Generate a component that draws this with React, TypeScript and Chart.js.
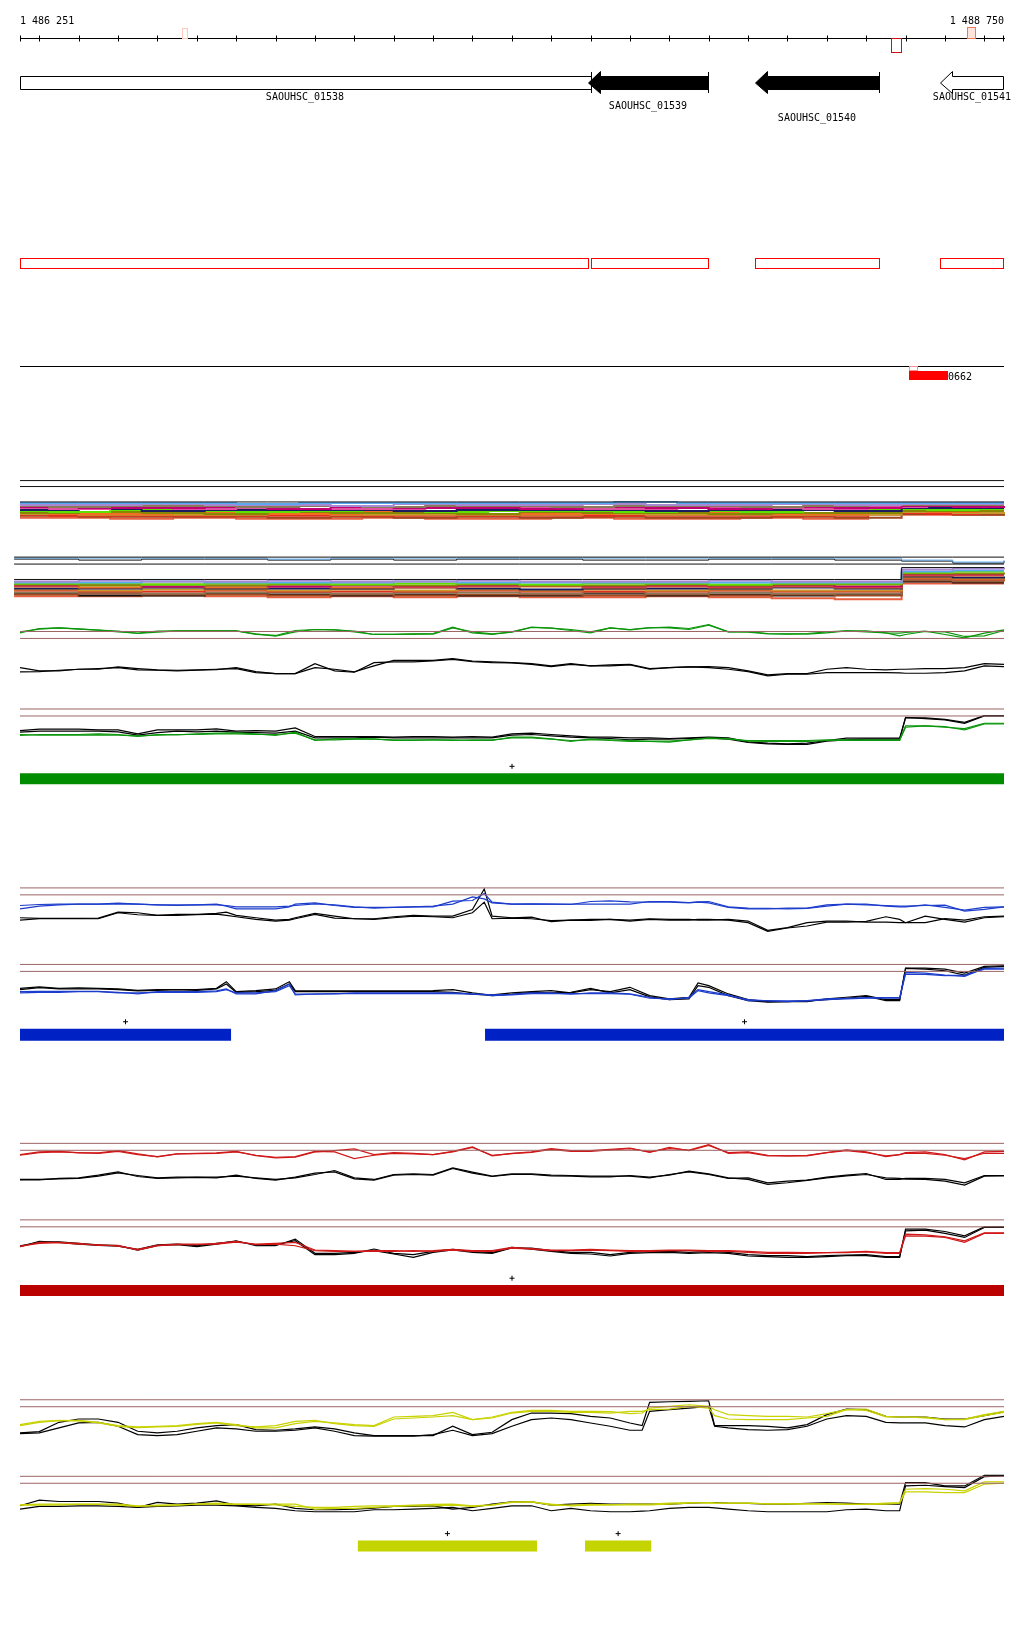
import React, { useEffect, useRef } from 'react';
import { Chart, registerables } from 'chart.js';

Chart.register(...registerables);

// ---------------- genomic window ----------------
const START = 1486251;
const END = 1488750;
const RANGE_LABELS = ['1 486 251', '1 488 750'];
const AXIS_TICKS = [1486251, 1486300, 1486400, 1486500, 1486600, 1486700, 1486800, 1486900, 1487000, 1487100, 1487200, 1487300, 1487400, 1487500, 1487600, 1487700, 1487800, 1487900, 1488000, 1488100, 1488200, 1488300, 1488400, 1488500, 1488600, 1488700, 1488750];
const AXIS_MARK_START = [1486662, 1488464, 1488657];
const AXIS_MARK_END = [1486675, 1488488, 1488676];

// ---------------- genes ----------------
const GENE_NAMES = ['SAOUHSC_01538', 'SAOUHSC_01539', 'SAOUHSC_01540', 'SAOUHSC_01541'];
const GENE_START = [1486251, 1487693, 1488118, 1488587];
const GENE_END = [1487701, 1487997, 1488433, 1488750];
const GENE_STRAND = [0, -1, -1, -1];
const GENE_FILLED = [false, true, true, false];
const GENE_BOUNDARIES = [1487701, 1487997, 1488433];

// CDS boxes
const CDS_START = [1486251, 1487701, 1488118, 1488587];
const CDS_END = [1487693, 1487997, 1488433, 1488750];

// annotated feature
const FEATURE_START = [1488509];
const FEATURE_END = [1488608];
const FEATURE_MARK_END = [1488529];
const FEATURE_LABELS = ['0662'];

// ---------------- signal sample positions ----------------
const BASE_POS = [1486251, 1486300, 1486350, 1486400, 1486450, 1486500, 1486550, 1486600, 1486650, 1486700, 1486750, 1486800, 1486850, 1486900, 1486950, 1487000, 1487050, 1487100, 1487150, 1487200, 1487250, 1487300, 1487350, 1487400, 1487450, 1487500, 1487550, 1487600, 1487650, 1487700, 1487750, 1487800, 1487850, 1487900, 1487950, 1488000, 1488050, 1488100, 1488150, 1488200, 1488250, 1488300, 1488350, 1488400, 1488450, 1488500, 1488550, 1488600, 1488650, 1488700, 1488750];
const GREEN_EXTRA = [1488485];
const BLUE_EXTRA = [1486775, 1486935, 1487430, 1487973, 1488485];
const RED_EXTRA = [1488485];
const YELLOW_EXTRA = [1487831, 1488015, 1488485];

// reference levels per section (section units)
const GREEN_REF = [91, 112, 325, 346];
const BLUE_REF = [55, 76, 286, 307];
const RED_REF = [46, 67, 277, 298];
const YELLOW_REF = [40, 61, 271, 292];

// ---------------- green section ----------------
const G_TOP_G1 = [95, 82, 80, 83, 87, 90, 97, 93, 89, 89, 89, 89, 100, 103, 88, 85, 86, 90, 100, 100, 98, 99, 80, 92, 98, 93, 79, 81, 85, 92, 80, 85, 79, 80, 85, 72, 92, 91, 97, 98, 99, 95, 89, 89, 95, 104, 100, 91, 92, 106, 104, 88];
const G_TOP_G2 = [92, 84, 80, 84, 87, 92, 96, 90, 89, 89, 89, 89, 98, 105, 92, 85, 86, 92, 100, 100, 99, 97, 78, 95, 100, 92, 78, 81, 88, 95, 80, 86, 80, 78, 82, 70, 92, 93, 98, 99, 97, 92, 89, 92, 95, 96, 94, 90, 100, 110, 96, 86];
const G_TOP_K1 = [200, 210, 210, 205, 205, 198, 203, 207, 208, 207, 205, 203, 215, 218, 218, 200, 205, 213, 195, 178, 178, 178, 173, 180, 183, 185, 188, 195, 188, 195, 192, 190, 203, 200, 198, 197, 200, 210, 222, 218, 218, 205, 200, 205, 207, 205, 205, 203, 203, 200, 188, 190];
const G_TOP_K2 = [213, 212, 208, 205, 203, 200, 207, 208, 210, 208, 206, 200, 212, 218, 218, 188, 210, 214, 185, 183, 183, 180, 175, 182, 185, 186, 190, 197, 190, 195, 195, 192, 205, 200, 198, 200, 205, 212, 225, 220, 220, 215, 215, 215, 215, 216, 217, 217, 215, 210, 195, 197];
const G_BOT_K1 = [390, 386, 386, 386, 388, 388, 400, 388, 388, 388, 385, 392, 390, 392, 382, 408, 408, 408, 408, 410, 408, 408, 410, 408, 410, 400, 398, 402, 406, 410, 410, 412, 412, 414, 412, 410, 412, 424, 428, 430, 428, 420, 413, 413, 413, 413, 352, 352, 356, 365, 345, 345];
const G_BOT_K2 = [395, 392, 392, 392, 392, 394, 404, 396, 392, 394, 392, 395, 396, 398, 392, 412, 412, 412, 410, 412, 412, 412, 412, 412, 412, 404, 402, 406, 410, 412, 414, 418, 416, 416, 414, 412, 416, 426, 430, 432, 432, 422, 418, 416, 416, 416, 350, 354, 358, 368, 346, 346];
const G_BOT_G1 = [405, 402, 402, 402, 400, 402, 408, 402, 403, 400, 398, 397, 400, 405, 395, 420, 415, 415, 415, 420, 420, 418, 418, 420, 420, 410, 410, 415, 423, 415, 420, 423, 423, 425, 418, 412, 414, 422, 423, 423, 423, 420, 420, 420, 420, 420, 380, 376, 378, 388, 370, 370];
const G_BOT_G2 = [402, 404, 404, 404, 403, 404, 406, 404, 402, 402, 400, 400, 402, 402, 398, 418, 418, 416, 416, 418, 418, 418, 420, 418, 418, 412, 412, 416, 420, 418, 418, 420, 422, 422, 418, 414, 416, 420, 420, 420, 420, 418, 418, 418, 418, 418, 376, 376, 380, 384, 368, 368];

// ---------------- blue section ----------------
const B_TOP_B1 = [108, 105, 104, 104, 104, 101, 104, 106, 106, 106, 106, 108, 112, 112, 112, 110, 108, 103, 106, 112, 116, 114, 112, 112, 95, 93, 72, 98, 104, 103, 104, 104, 104, 104, 104, 96, 96, 99, 97, 96, 112, 116, 117, 118, 117, 110, 104, 106, 108, 110, 110, 108, 107, 125, 120, 112];
const B_TOP_B2 = [118, 110, 106, 104, 104, 103, 104, 106, 108, 106, 104, 110, 118, 118, 118, 112, 104, 100, 108, 114, 114, 114, 112, 110, 104, 82, 88, 100, 104, 104, 104, 105, 96, 94, 97, 98, 98, 100, 98, 100, 114, 118, 118, 116, 116, 106, 104, 104, 110, 112, 112, 106, 114, 122, 114, 112];
const B_TOP_K1 = [145, 147, 147, 147, 146, 128, 130, 138, 135, 135, 132, 128, 138, 145, 152, 150, 145, 132, 140, 148, 148, 142, 138, 140, 140, 120, 58, 140, 145, 143, 157, 152, 153, 150, 152, 148, 150, 150, 152, 152, 150, 155, 183, 175, 160, 155, 155, 158, 158, 160, 160, 140, 150, 158, 145, 142];
const B_TOP_K2 = [152, 148, 148, 148, 148, 130, 136, 138, 138, 136, 134, 138, 142, 150, 155, 152, 148, 135, 146, 148, 150, 145, 140, 142, 145, 130, 98, 148, 146, 148, 154, 152, 150, 150, 155, 150, 152, 152, 150, 150, 152, 160, 186, 176, 170, 158, 158, 156, 142, 150, 160, 160, 148, 152, 142, 140];
const B_BOT_K1 = [358, 354, 358, 357, 358, 360, 364, 362, 362, 362, 358, 338, 368, 365, 360, 338, 365, 366, 366, 366, 366, 366, 366, 365, 362, 372, 376, 378, 372, 368, 365, 372, 362, 368, 355, 380, 390, 385, 342, 350, 375, 392, 398, 398, 398, 390, 385, 380, 392, 392, 297, 297, 300, 312, 292, 290];
const B_BOT_K2 = [362, 356, 360, 360, 360, 362, 366, 364, 362, 364, 360, 345, 370, 368, 364, 345, 368, 368, 368, 368, 368, 368, 368, 368, 370, 376, 378, 380, 376, 370, 372, 370, 358, 372, 362, 384, 392, 390, 350, 355, 380, 395, 400, 398, 396, 392, 388, 382, 395, 395, 298, 300, 305, 318, 295, 292];
const B_BOT_B1 = [368, 367, 367, 367, 367, 370, 375, 368, 368, 368, 366, 360, 375, 375, 365, 345, 378, 375, 375, 372, 372, 372, 372, 372, 372, 375, 376, 378, 376, 372, 372, 376, 372, 372, 375, 385, 392, 385, 362, 368, 378, 395, 395, 398, 395, 390, 388, 386, 386, 386, 310, 312, 318, 322, 298, 297];
const B_BOT_B2 = [372, 370, 370, 368, 368, 372, 372, 370, 370, 370, 368, 362, 372, 372, 368, 350, 375, 376, 374, 374, 374, 374, 374, 374, 374, 376, 377, 380, 378, 374, 374, 374, 374, 374, 376, 388, 390, 388, 365, 372, 380, 392, 396, 396, 396, 392, 390, 388, 388, 388, 315, 316, 320, 318, 300, 300];

// ---------------- red section ----------------
const R_TOP_R1 = [80, 72, 70, 75, 75, 68, 78, 87, 78, 76, 75, 70, 83, 90, 88, 72, 68, 63, 80, 74, 76, 80, 70, 57, 84, 76, 72, 62, 68, 68, 64, 60, 73, 58, 68, 52, 74, 72, 82, 84, 84, 74, 66, 72, 86, 80, 74, 72, 80, 96, 72, 70];
const R_TOP_R2 = [82, 74, 72, 74, 76, 70, 80, 86, 78, 77, 76, 72, 82, 88, 86, 70, 72, 92, 82, 76, 78, 80, 72, 58, 82, 77, 73, 64, 70, 70, 66, 62, 72, 62, 66, 50, 76, 74, 84, 84, 82, 74, 68, 74, 84, 80, 76, 76, 82, 92, 76, 76];
const R_TOP_K1 = [155, 155, 153, 152, 145, 135, 143, 150, 148, 148, 148, 145, 150, 155, 150, 140, 128, 150, 155, 140, 138, 140, 120, 133, 145, 138, 138, 142, 143, 145, 145, 145, 150, 140, 132, 140, 152, 150, 165, 160, 157, 148, 142, 137, 155, 155, 152, 152, 155, 165, 143, 143];
const R_TOP_K2 = [156, 156, 152, 150, 142, 132, 146, 152, 150, 149, 150, 142, 152, 157, 148, 136, 132, 153, 157, 142, 140, 142, 122, 136, 146, 140, 140, 144, 145, 147, 147, 143, 148, 142, 130, 138, 150, 155, 170, 165, 158, 150, 144, 140, 150, 152, 154, 155, 160, 172, 145, 144];
const R_BOT_K1 = [355, 345, 343, 348, 352, 355, 368, 355, 352, 358, 350, 340, 355, 355, 335, 378, 378, 375, 370, 380, 390, 375, 368, 375, 378, 362, 362, 370, 375, 375, 382, 375, 372, 372, 375, 372, 375, 382, 385, 385, 388, 385, 383, 382, 388, 388, 310, 308, 318, 330, 300, 300];
const R_BOT_K2 = [358, 342, 345, 350, 354, 356, 366, 352, 350, 355, 348, 342, 352, 352, 340, 382, 382, 378, 365, 378, 382, 372, 366, 372, 376, 360, 365, 372, 378, 380, 386, 378, 376, 375, 378, 376, 378, 386, 388, 390, 390, 388, 385, 385, 390, 390, 305, 305, 312, 325, 298, 298];
const R_BOT_R1 = [358, 345, 345, 348, 354, 354, 368, 355, 352, 352, 348, 342, 352, 350, 355, 370, 372, 372, 372, 372, 370, 372, 368, 372, 372, 362, 365, 370, 370, 368, 370, 372, 372, 370, 370, 372, 372, 375, 378, 378, 378, 376, 376, 374, 378, 378, 325, 326, 330, 345, 318, 318];
const R_BOT_R2 = [356, 348, 346, 350, 352, 356, 366, 354, 350, 350, 350, 344, 350, 348, 345, 368, 370, 372, 370, 370, 372, 370, 366, 370, 370, 360, 364, 368, 368, 366, 368, 370, 370, 368, 368, 370, 370, 372, 375, 375, 376, 376, 374, 372, 376, 376, 320, 322, 328, 340, 316, 316];

// ---------------- yellow section ----------------
const Y_TOP_Y1 = [118, 108, 103, 102, 108, 118, 122, 120, 118, 112, 108, 115, 125, 125, 112, 105, 110, 115, 118, 92, 90, 88, 78, 100, 92, 78, 72, 72, 75, 75, 76, 82, 80, 65, 60, 55, 60, 70, 85, 88, 90, 90, 92, 82, 70, 68, 90, 92, 92, 92, 100, 98, 85, 75];
const Y_TOP_Y2 = [115, 105, 102, 104, 110, 120, 124, 122, 120, 114, 110, 118, 122, 118, 105, 102, 112, 118, 120, 98, 95, 92, 88, 100, 95, 80, 75, 75, 78, 78, 80, 75, 75, 70, 68, 60, 65, 88, 98, 100, 100, 100, 95, 90, 70, 72, 92, 92, 92, 95, 100, 100, 88, 78];
const Y_TOP_K1 = [140, 136, 108, 98, 98, 108, 135, 140, 135, 125, 118, 115, 130, 132, 128, 122, 128, 140, 148, 148, 148, 148, 120, 145, 138, 100, 80, 80, 82, 90, 95, 110, 118, 48, 46, 45, 43, 118, 118, 118, 120, 125, 115, 85, 68, 70, 90, 92, 92, 92, 98, 98, 88, 76];
const Y_TOP_K2 = [142, 140, 125, 110, 108, 120, 145, 148, 145, 135, 125, 128, 135, 135, 132, 125, 135, 148, 150, 150, 150, 145, 132, 148, 142, 120, 100, 95, 100, 110, 120, 132, 132, 75, 70, 65, 60, 120, 125, 130, 132, 130, 120, 98, 88, 90, 108, 110, 110, 110, 118, 122, 100, 90];
const Y_BOT_K1 = [360, 343, 347, 347, 347, 352, 365, 350, 355, 352, 345, 358, 360, 355, 368, 372, 372, 370, 367, 362, 362, 360, 370, 365, 355, 348, 348, 358, 355, 353, 355, 355, 355, 355, 355, 352, 350, 350, 352, 353, 355, 355, 353, 350, 352, 355, 355, 355, 290, 290, 300, 300, 268, 268];
const Y_BOT_K2 = [370, 362, 362, 360, 360, 362, 365, 362, 360, 358, 358, 360, 365, 368, 375, 378, 378, 378, 372, 372, 370, 368, 365, 375, 368, 360, 360, 375, 368, 375, 378, 378, 376, 375, 368, 365, 365, 366, 370, 375, 378, 378, 378, 378, 372, 370, 375, 375, 300, 298, 302, 305, 272, 270];
const Y_BOT_Y1 = [357, 355, 355, 355, 355, 355, 360, 360, 358, 355, 352, 355, 355, 355, 355, 370, 368, 368, 365, 362, 360, 360, 358, 362, 358, 350, 348, 355, 360, 358, 357, 357, 357, 357, 355, 352, 350, 351, 352, 352, 354, 354, 354, 354, 355, 355, 352, 350, 310, 308, 310, 315, 288, 288];
const Y_BOT_Y2 = [358, 358, 357, 356, 356, 358, 362, 358, 357, 355, 355, 356, 356, 357, 362, 365, 365, 362, 360, 360, 358, 356, 355, 360, 357, 348, 348, 358, 358, 356, 357, 355, 355, 355, 352, 350, 352, 352, 352, 352, 354, 354, 354, 354, 356, 356, 355, 352, 318, 318, 320, 320, 295, 292];

// bar features (bp)
const GREEN_BAR_START = [1486251];
const GREEN_BAR_END = [1488750];
const BLUE_BAR_START = [1486251, 1487432];
const BLUE_BAR_END = [1486787, 1488750];
const RED_BAR_START = [1486251];
const RED_BAR_END = [1488750];
const YELLOW_BAR_START = [1487109, 1487686];
const YELLOW_BAR_END = [1487564, 1487854];

// ---------------- multi-sample bands (offsets, stepped) ----------------
const BAND1_POS = [1486251, 1486400, 1486560, 1486720, 1486880, 1487040, 1487200, 1487360, 1487520, 1487680, 1487840, 1488000, 1488160, 1488320, 1488490, 1488620, 1488750];
const BAND2_POS = [1486236, 1486400, 1486560, 1486720, 1486880, 1487040, 1487200, 1487360, 1487520, 1487680, 1487840, 1488000, 1488160, 1488320, 1488490, 1488620, 1488750];
const BAND1_COLORS = ['#111111', '#5aa8f0', '#a888d0', '#8a7a5a', '#c00070', '#e050a0', '#1c1c60', '#60e000', '#888800', '#f07020', '#c89830', '#e03020', '#a04820', '#e86040'];
const BAND1_ROWS = [
  [0, 0, 0, 0, 0, 0, 0, 0, 0, 0, 0, 0, 0, 0, 0, 0, 0],
  [1, 1, 1, 1, 2, 1, 1, 1, 1, 1, 0, 1, 1, 1, 1, 1, 1],
  [3, 3, 2, 3, 3, 4, 2, 3, 3, 2, 3, 3, 2, 3, 2, 2, 2],
  [4, 5, 4, 4, 5, 4, 5, 4, 4, 5, 4, 4, 5, 4, 3, 3, 3],
  [5, 6, 6, 5, 7, 5, 6, 6, 7, 5, 6, 7, 5, 6, 4, 5, 4],
  [6, 7, 5, 7, 6, 7, 7, 5, 6, 7, 7, 6, 6, 7, 5, 4, 5],
  [8, 7, 9, 8, 8, 8, 9, 8, 8, 8, 9, 8, 8, 9, 6, 6, 6],
  [9, 10, 8, 9, 10, 9, 8, 10, 9, 9, 10, 9, 10, 8, 7, 8, 7],
  [11, 10, 11, 12, 10, 11, 11, 12, 10, 11, 11, 12, 11, 11, 9, 9, 9],
  [10, 12, 12, 10, 12, 12, 10, 11, 12, 12, 10, 11, 12, 12, 8, 10, 8],
  [12, 13, 13, 13, 11, 13, 13, 13, 13, 12, 13, 13, 13, 13, 10, 11, 10],
  [13, 14, 14, 14, 14, 14, 14, 14, 14, 14, 14, 14, 14, 14, 11, 12, 11],
  [14, 15, 15, 15, 16, 15, 16, 15, 16, 15, 16, 16, 15, 16, 12, 13, 12],
  [16, 16, 17, 16, 17, 17, 16, 17, 17, 16, 17, 17, 16, 17, 13, 13, 13],
];
const BAND2_COLORS = ['#111111', '#a888d0', '#5aa8f0', '#60e000', '#888800', '#c00070', '#f07020', '#1c1c60', '#c89830', '#e03020', '#8a7a5a', '#a04820', '#111111', '#e86040'];
const BAND2_ROWS = [
  [0, 0, 0, 0, 0, 0, 0, 0, 0, 0, 0, 0, 0, 0, -12, -12, -12],
  [2, 1, 2, 2, 1, 2, 2, 1, 2, 2, 2, 1, 2, 2, -10, -11, -10],
  [3, 3, 2, 3, 3, 3, 2, 3, 3, 3, 3, 3, 3, 3, -8, -9, -9],
  [4, 4, 5, 4, 4, 5, 4, 4, 5, 4, 4, 5, 4, 4, -7, -8, -8],
  [5, 6, 5, 6, 5, 5, 6, 5, 6, 6, 5, 6, 5, 5, -6, -6, -7],
  [6, 5, 7, 6, 7, 6, 7, 6, 6, 7, 6, 7, 6, 7, -5, -5, -5],
  [7, 8, 7, 8, 7, 8, 8, 7, 7, 8, 7, 8, 7, 8, -4, -4, -4],
  [9, 9, 8, 9, 9, 9, 8, 9, 10, 9, 9, 9, 8, 9, -3, -2, -3],
  [10, 11, 10, 10, 11, 10, 11, 10, 11, 10, 11, 10, 11, 11, -2, -1, -2],
  [11, 12, 12, 11, 12, 12, 12, 11, 12, 12, 12, 11, 12, 12, -1, 0, -1],
  [13, 13, 14, 13, 13, 14, 13, 13, 14, 13, 14, 13, 14, 14, 0, 1, 0],
  [15, 14, 15, 15, 16, 15, 16, 15, 15, 16, 15, 16, 15, 16, 1, 2, 2],
  [14, 16, 16, 14, 15, 16, 15, 16, 16, 14, 16, 15, 16, 15, 2, 3, 3],
  [17, 17, 16, 17, 18, 17, 18, 17, 18, 18, 17, 18, 19, 20, 4, 4, 4],
];
const HEAD2_COLORS = ['#111111', '#111111', '#5aa8f0', '#111111'];
const HEAD2_ROWS = [
  [0, 0, 0, 0, 0, 0, 0, 0, 0, 0, 0, 0, 0, 0, 0, 0, 0],
  [7, 7, 7, 7, 7, 7, 7, 7, 7, 7, 7, 7, 7, 7, 7, 7, 7],
  [1, 1, 1, 1, 2, 1, 1, 1, 1, 1, 1, 1, 1, 1, 3, 5, 3],
  [2, 3, 2, 2, 3, 2, 3, 2, 2, 3, 3, 2, 2, 3, 4, 6, 4],
];
const HEAD1_ROWS = [[0, 0], [6, 6]];

// ---------------- layout & style ----------------
const W = 1024;
const H = 1640;
const UNITS_PER_PX = 3;
const FONT = '10px "DejaVu Sans Mono", "Liberation Mono", monospace';
const BROWN = '#9c6464';
const SIGNAL_WIDTH = 1.2;
const BAND_WIDTH = 2;
const L = {
  padLeft: 20, padRight: 20,
  rangeLabelY: 24, axisY: 38.5, tickTop: 35.5, tickBottom: 41.5,
  markY: [[28, 38], [38, 52], [27, 38]],
  markStroke: ['#ffc8b8', '#cc1010', '#f07858'],
  markFill: ['rgba(0,0,0,0)', 'rgba(0,0,0,0)', '#ffe4dc'],
  bodyTop: 76.5, bodyBottom: 89.5, headTop: 71.5, headBottom: 93.5, headLen: 12,
  boundaryTop: 72, boundaryBottom: 93,
  geneLabelY: [97, 106, 118], geneLabelRow: [0, 1, 2, 0],
  cdsTop: 258.5, cdsBottom: 268.5,
  featLineY: 366.5, featTop: 371, featBottom: 380, featMarkTop: 366.5, featMarkBottom: 370.5, featLabelY: 380,
  head1Top: 478.5, band1Top: 500, head2Top: 555.5, band2Top: 578,
};

const SECTIONS = [
  { axis: 'yG', top: 600, extra: GREEN_EXTRA, refs: GREEN_REF, color: '#0c960c', barColor: '#008c00', barStart: GREEN_BAR_START, barEnd: GREEN_BAR_END, barTop: 773, barH: 11,
    colored: [G_TOP_G1, G_TOP_G2, G_BOT_G1, G_BOT_G2], black: [G_TOP_K1, G_TOP_K2, G_BOT_K1, G_BOT_K2] },
  { axis: 'yB', top: 870, extra: BLUE_EXTRA, refs: BLUE_REF, color: '#1c3ccc', barColor: '#0022c4', barStart: BLUE_BAR_START, barEnd: BLUE_BAR_END, barTop: 1030, barH: 12,
    colored: [B_TOP_B1, B_TOP_B2, B_BOT_B1, B_BOT_B2], black: [B_TOP_K1, B_TOP_K2, B_BOT_K1, B_BOT_K2] },
  { axis: 'yR', top: 1130, extra: RED_EXTRA, refs: RED_REF, color: '#d01818', barColor: '#bb0000', barStart: RED_BAR_START, barEnd: RED_BAR_END, barTop: 1288, barH: 11,
    colored: [R_TOP_R1, R_TOP_R2, R_BOT_R1, R_BOT_R2], black: [R_TOP_K1, R_TOP_K2, R_BOT_K1, R_BOT_K2] },
  { axis: 'yY', top: 1390, extra: YELLOW_EXTRA, refs: YELLOW_REF, color: '#c8d200', barColor: '#c4d400', barStart: YELLOW_BAR_START, barEnd: YELLOW_BAR_END, barTop: 1545, barH: 11,
    colored: [Y_TOP_Y1, Y_TOP_Y2, Y_BOT_Y1, Y_BOT_Y2], black: [Y_TOP_K1, Y_TOP_K2, Y_BOT_K1, Y_BOT_K2] },
];

function lineDs(xs: number[], ys: number[], color: string, axis: string, extra: any = {}) {
  const n = Math.min(xs.length, ys.length);
  const data = [] as { x: number; y: number }[];
  for (let i = 0; i < n; i++) data.push({ x: xs[i], y: ys[i] });
  return {
    data, showLine: true, borderColor: color, backgroundColor: color, borderWidth: 1,
    pointRadius: 0, pointHoverRadius: 0, yAxisID: axis, clip: false, fill: false, tension: 0, ...extra,
  };
}

function buildDatasets() {
  const ds: any[] = [];
  HEAD1_ROWS.forEach((r) => ds.push(lineDs([START, END], r.map((v) => L.head1Top + v), '#111111', 'y')));
  BAND1_ROWS.forEach((r, i) => ds.push(lineDs(BAND1_POS, r.map((v) => L.band1Top + v), BAND1_COLORS[i], 'y', { stepped: i % 2 ? 'middle' : 'before', borderWidth: i === 0 ? 1 : BAND_WIDTH, borderCapStyle: 'butt' })));
  HEAD2_ROWS.forEach((r, i) => ds.push(lineDs(BAND2_POS, r.map((v) => L.head2Top + v), HEAD2_COLORS[i], 'y', { stepped: 'before' })));
  BAND2_ROWS.forEach((r, i) => ds.push(lineDs(BAND2_POS, r.map((v) => L.band2Top + v), BAND2_COLORS[i], 'y', { stepped: 'before', borderWidth: i === 0 ? 1 : BAND_WIDTH, borderCapStyle: 'butt' })));

  SECTIONS.forEach((s) => {
    const pos = [...BASE_POS, ...s.extra].sort((a, b) => a - b);
    s.refs.forEach((r) => ds.push(lineDs([START, END], [r, r], BROWN, s.axis)));
    s.colored.forEach((c) => ds.push(lineDs(pos, c, s.color, s.axis, { borderWidth: SIGNAL_WIDTH })));
    s.black.forEach((c) => ds.push(lineDs(pos, c, '#000000', s.axis, { borderWidth: SIGNAL_WIDTH })));
    s.barStart.forEach((b, i) => {
      const yc = s.barTop + s.barH / 2;
      ds.push(lineDs([b, s.barEnd[i]], [yc, yc], s.barColor, 'y', { borderWidth: s.barH, borderCapStyle: 'butt' }));
    });
    ds.push({
      data: s.barStart.map((b, i) => ({ x: (b + s.barEnd[i]) / 2, y: s.barTop - 7 })),
      showLine: false, pointStyle: 'cross', pointRadius: 2.5, pointBorderColor: '#000', borderColor: '#000',
      pointBorderWidth: 1, yAxisID: 'y', clip: false,
    });
  });
  return ds;
}

const featurePlugin = {
  id: 'trackFeatures',
  afterDatasetsDraw(chart: any) {
    const ctx = chart.ctx as CanvasRenderingContext2D;
    const X = (v: number) => chart.scales.x.getPixelForValue(v);
    const cx = (v: number) => Math.round(X(v)) + 0.5;
    ctx.save();
    ctx.lineWidth = 1;
    ctx.font = FONT;
    ctx.fillStyle = '#000';
    ctx.textBaseline = 'alphabetic';
    ctx.textAlign = 'left';
    ctx.fillText(RANGE_LABELS[0], Math.round(X(START)), L.rangeLabelY);
    ctx.textAlign = 'right';
    ctx.fillText(RANGE_LABELS[1], Math.round(X(END)), L.rangeLabelY);

    ctx.strokeStyle = '#000';
    ctx.beginPath();
    ctx.moveTo(Math.round(X(START)), L.axisY);
    ctx.lineTo(Math.round(X(END)) + 1, L.axisY);
    ctx.stroke();
    AXIS_TICKS.forEach((t) => {
      const x = Math.min(cx(t), Math.round(X(END)) - 0.5);
      ctx.beginPath();
      ctx.moveTo(x, L.tickTop);
      ctx.lineTo(x, L.tickBottom);
      ctx.stroke();
    });
    AXIS_MARK_START.forEach((s, i) => {
      const [t, b] = L.markY[i];
      const x0 = cx(s), x1 = cx(AXIS_MARK_END[i]);
      ctx.fillStyle = L.markFill[i];
      ctx.fillRect(x0, t + 0.5, x1 - x0, b - t);
      ctx.strokeStyle = L.markStroke[i];
      ctx.strokeRect(x0, t + 0.5, x1 - x0, b - t);
    });

    GENE_NAMES.forEach((name, i) => {
      const x0 = cx(GENE_START[i]);
      const x2 = Math.min(cx(GENE_END[i]), Math.round(X(END)) - 0.5);
      ctx.strokeStyle = '#000';
      ctx.fillStyle = GENE_FILLED[i] ? '#000' : '#fff';
      ctx.beginPath();
      if (GENE_STRAND[i] === 0) {
        ctx.rect(x0, L.bodyTop, x2 - x0, L.bodyBottom - L.bodyTop);
      } else {
        const mid = (L.bodyTop + L.bodyBottom) / 2;
        const x1 = x0 + L.headLen;
        ctx.moveTo(x0, mid);
        ctx.lineTo(x1, L.headTop);
        ctx.lineTo(x1, L.bodyTop);
        ctx.lineTo(x2, L.bodyTop);
        ctx.lineTo(x2, L.bodyBottom);
        ctx.lineTo(x1, L.bodyBottom);
        ctx.lineTo(x1, L.headBottom);
        ctx.closePath();
      }
      ctx.fill();
      ctx.stroke();
    });
    ctx.strokeStyle = '#000';
    GENE_BOUNDARIES.forEach((b) => {
      ctx.beginPath();
      ctx.moveTo(cx(b), L.boundaryTop);
      ctx.lineTo(cx(b), L.boundaryBottom);
      ctx.stroke();
    });
    ctx.fillStyle = '#000';
    ctx.textAlign = 'center';
    ctx.textBaseline = 'middle';
    GENE_NAMES.forEach((name, i) => {
      const c = (X(GENE_START[i]) + X(GENE_END[i])) / 2;
      ctx.fillText(name, Math.round(c), L.geneLabelY[L.geneLabelRow[i]]);
    });

    ctx.strokeStyle = '#ff0000';
    CDS_START.forEach((s, i) => {
      const x0 = cx(s);
      const x1 = Math.min(cx(CDS_END[i]), Math.round(X(END)) - 0.5);
      ctx.strokeRect(x0, L.cdsTop, x1 - x0, L.cdsBottom - L.cdsTop);
    });

    ctx.strokeStyle = '#000';
    ctx.beginPath();
    ctx.moveTo(Math.round(X(START)), L.featLineY);
    ctx.lineTo(Math.round(X(END)), L.featLineY);
    ctx.stroke();
    FEATURE_START.forEach((s, i) => {
      const x0 = Math.round(X(s)), x1 = Math.round(X(FEATURE_END[i]));
      ctx.fillStyle = '#ff0000';
      ctx.fillRect(x0, L.featTop, x1 - x0, L.featBottom - L.featTop);
      const m1 = cx(FEATURE_MARK_END[i]);
      ctx.fillStyle = '#fff';
      ctx.fillRect(x0 + 0.5, L.featMarkTop, m1 - x0 - 0.5, L.featMarkBottom - L.featMarkTop);
      ctx.strokeStyle = '#ff8c8c';
      ctx.strokeRect(x0 + 0.5, L.featMarkTop, m1 - x0 - 0.5, L.featMarkBottom - L.featMarkTop);
      ctx.fillStyle = '#000';
      ctx.textAlign = 'left';
      ctx.textBaseline = 'alphabetic';
      ctx.fillText(FEATURE_LABELS[i], x1, L.featLabelY);
    });
    ctx.restore();
  },
};

export default function App() {
  const ref = useRef<HTMLCanvasElement | null>(null);
  useEffect(() => {
    if (!ref.current) return;
    const scales: any = {
      x: { type: 'linear', min: START, max: END, display: false },
      y: { type: 'linear', min: 0, max: H, reverse: true, display: false },
    };
    SECTIONS.forEach((s) => {
      scales[s.axis] = { type: 'linear', display: false, reverse: true, min: -UNITS_PER_PX * s.top, max: UNITS_PER_PX * (H - s.top) };
    });
    const chart = new Chart(ref.current, {
      type: 'scatter',
      data: { datasets: buildDatasets() },
      options: {
        responsive: false,
        animation: false,
        events: [],
        layout: { padding: { left: L.padLeft, right: L.padRight, top: 0, bottom: 0 } },
        plugins: { legend: { display: false }, tooltip: { enabled: false } },
        scales,
      },
      plugins: [featurePlugin],
    } as any);
    return () => chart.destroy();
  }, []);
  return (
    <div style={{ position: 'absolute', left: 0, top: 0, width: W, height: H, background: '#fff' }}>
      <canvas ref={ref} width={W} height={H} style={{ display: 'block', width: W, height: H }} />
    </div>
  );
}
